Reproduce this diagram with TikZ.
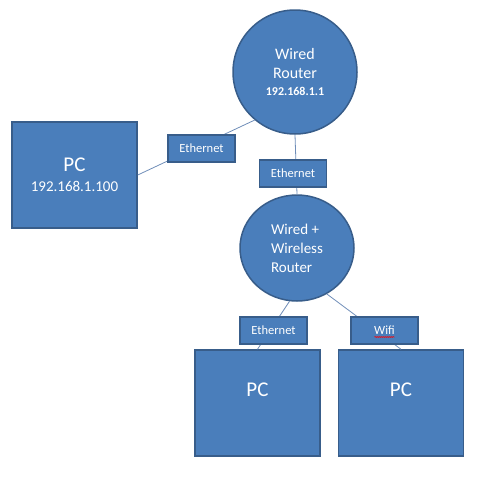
\documentclass[tikz,border=0pt]{standalone}
\usepackage{fontspec}
\setmainfont{Carlito}
\usetikzlibrary{shapes.geometric,decorations.pathmorphing}
\definecolor{boxfill}{HTML}{4A7EBB}
\definecolor{boxline}{HTML}{385D8A}
\definecolor{linkline}{HTML}{6F8DB8}
\begin{document}
\begin{tikzpicture}[x=1pt,y=-1pt,
  dev/.style={fill=boxfill,draw=boxline,line width=1.5pt,text=white,inner sep=0pt},
  pcbox/.style={dev,rectangle,minimum width=125pt,minimum height=106pt,
    font=\fontsize{21}{24}\selectfont,align=center},
  rtnode/.style={dev,ellipse,font=\fontsize{15}{19}\selectfont},
  tag/.style={dev,rectangle,line width=1.2pt,minimum width=67pt,minimum height=27pt,
    font=\fontsize{12.5}{14}\selectfont},
  link/.style={draw=linkline,line width=0.8pt}]
  \useasboundingbox (0,0) rectangle (500,485);
  % ルータ
  \node[rtnode,minimum width=124pt,minimum height=124pt,align=center,
    font=\fontsize{16}{19}\selectfont] (rt1) at (295,72)
    {Wired\\Router\\[-2pt]{\fontsize{12}{14}\selectfont\bfseries 192.168.1.1}};
  \node[rtnode,minimum width=114pt,minimum height=106pt,align=left] (rt2) at (297,248)
    {Wired +\\Wireless\\Router};
  % PC
  \node[pcbox] (pc0) at (74.5,175) {PC\\[-4pt]{\fontsize{15}{18}\selectfont 192.168.1.100}};
  \node[pcbox,label={[text=white,font=\fontsize{21}{24}\selectfont,yshift=13pt]center:PC}] (pc1) at (257.5,403) {};
  \node[pcbox,label={[text=white,font=\fontsize{21}{24}\selectfont,yshift=13pt]center:PC}] (pc2) at (401,403) {};
  % 接続線 (ラベルの下を通す)
  \draw[link] (pc0.east) -- (rt1.230);
  \draw[link] (rt1.south) -- (rt2.north);
  \draw[link] (rt2.262) -- (pc1.north);
  \draw[link] (rt2.303) -- (pc2.north);
  % 接続の種類
  \node[tag] (eth0) at (201.5,148.5) {Ethernet};
  \node[tag] (eth1) at (293,173.5) {Ethernet};
  \node[tag] (eth2) at (273.5,330.5) {Ethernet};
  \node[tag] (wifi) at (384.5,330.5) {Wifi};
  \draw[red,line width=0.5pt,decorate,decoration={snake,amplitude=0.6pt,segment length=2pt}]
    ([xshift=-10pt,yshift=-6.5pt]wifi.center) -- ([xshift=10pt,yshift=-6.5pt]wifi.center);
\end{tikzpicture}
\end{document}
